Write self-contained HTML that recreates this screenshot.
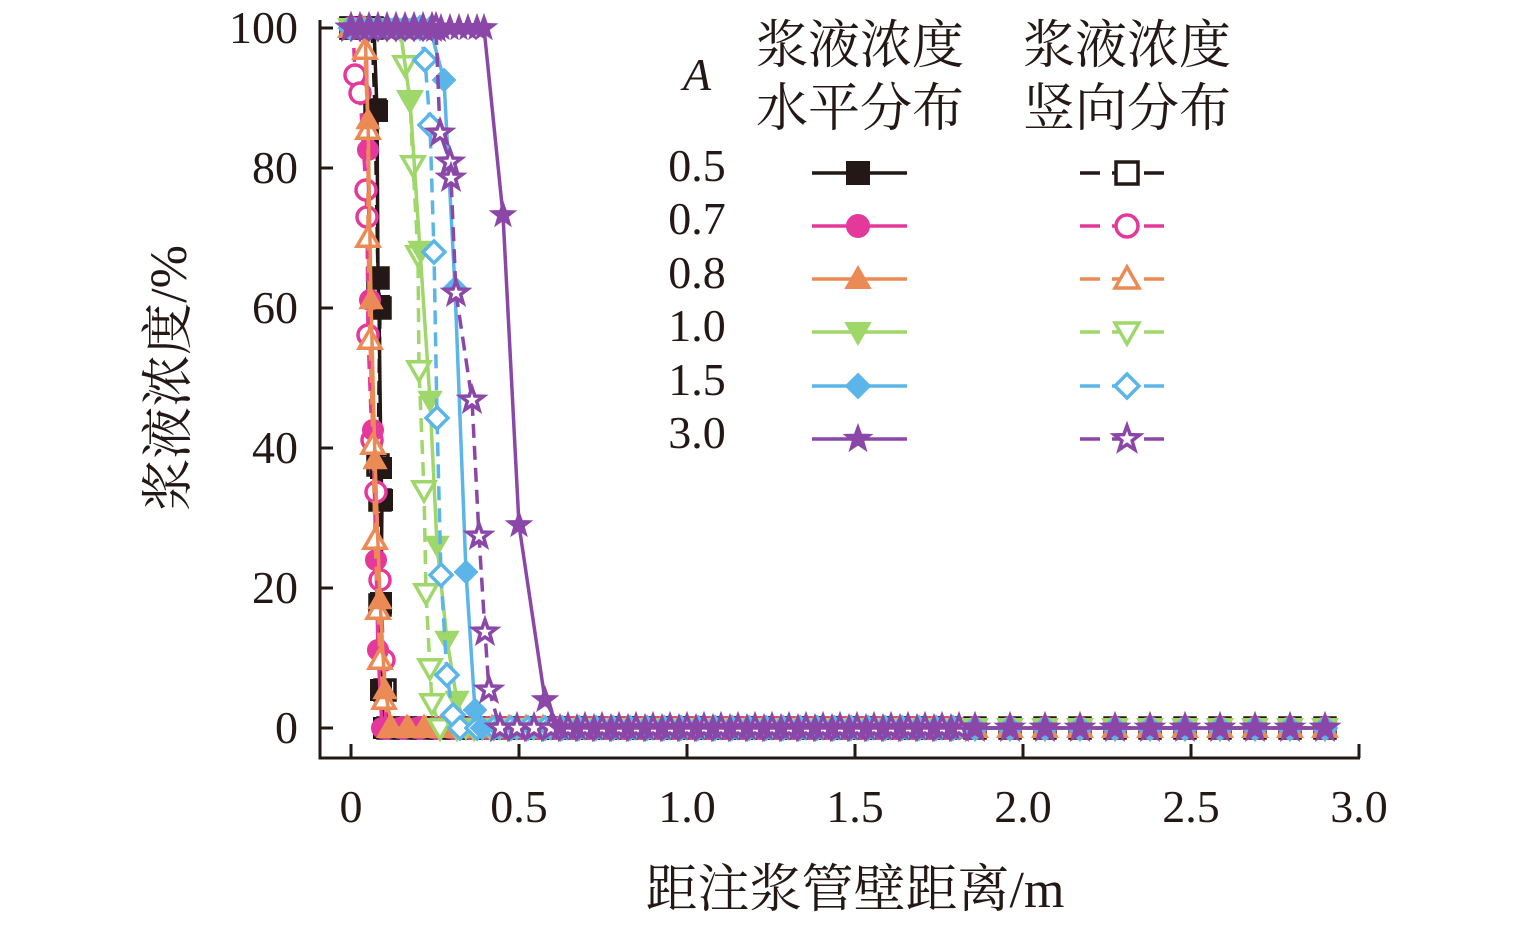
<!DOCTYPE html>
<html><head><meta charset="utf-8">
<style>
body{margin:0;background:#fff;}
svg text{font-family:"Liberation Serif","Noto Serif CJK SC",serif;fill:#231815;}
</style></head>
<body>
<svg id="s" width="1535" height="924" viewBox="0 0 1535 924" xmlns="http://www.w3.org/2000/svg">
<g stroke="#231815" stroke-width="3" fill="none">
<path d="M320,20 V758 H1360"/>
<path d="M320,28 h13 M320,168 h13 M320,308 h13 M320,448 h13 M320,588 h13 M320,728 h13"/>
<path d="M351,758 v-14 M519,758 v-14 M687,758 v-14 M855,758 v-14 M1023,758 v-14 M1191,758 v-14 M1359,758 v-14"/>
</g>
<g font-size="46" text-anchor="end">
<text x="298" y="43">100</text><text x="298" y="183">80</text><text x="298" y="323">60</text>
<text x="298" y="463">40</text><text x="298" y="603">20</text><text x="298" y="743">0</text>
</g>
<g font-size="46" text-anchor="middle">
<text x="351" y="822">0</text><text x="519" y="822">0.5</text><text x="687" y="822">1.0</text>
<text x="855" y="822">1.5</text><text x="1023" y="822">2.0</text><text x="1191" y="822">2.5</text><text x="1359" y="822">3.0</text>
<text x="855" y="907" font-size="52">距注浆管壁距离/m</text>
<text transform="translate(186,378) rotate(-90)" font-size="52">浆液浓度/%</text>
<text x="697" y="90" font-style="italic">A</text>
<text x="860" y="63" font-size="52">浆液浓度</text><text x="860" y="126" font-size="52">水平分布</text>
<text x="1127" y="63" font-size="52">浆液浓度</text><text x="1127" y="126" font-size="52">竖向分布</text>
<text x="697" y="181">0.5</text><text x="697" y="234">0.7</text><text x="697" y="288">0.8</text>
<text x="697" y="341">1.0</text><text x="697" y="395">1.5</text><text x="697" y="448">3.0</text>
</g>
<g id="plot"></g>
<g id="leg"></g>
</svg>
<script>
const NS="http://www.w3.org/2000/svg";
const C=["#231815","#e4389a","#ec8a56","#9fd76a","#5bb5e8","#8a47a8"];
const SH=["sq","ci","tu","td","di","st"];
function marker(t,x,y,col,filled,r){
  r=r||11;let el;
  const f=filled?col:"#fff";
  if(t=="sq"){el=document.createElementNS(NS,"rect");el.setAttribute("x",x-r+1);el.setAttribute("y",y-r+1);el.setAttribute("width",2*r-2);el.setAttribute("height",2*r-2);}
  else if(t=="ci"){el=document.createElementNS(NS,"circle");el.setAttribute("cx",x);el.setAttribute("cy",y);el.setAttribute("r",r-1);}
  else{let pts=[];
    if(t=="tu")pts=[[0,-r],[r,r*0.75],[-r,r*0.75]];
    if(t=="td")pts=[[0,r],[r,-r*0.75],[-r,-r*0.75]];
    if(t=="di")pts=[[0,-r],[r,0],[0,r],[-r,0]];
    if(t=="st"){for(let i=0;i<10;i++){const a=-Math.PI/2+i*Math.PI/5,rr=i%2?r*0.45:r*1.1;pts.push([rr*Math.cos(a),rr*Math.sin(a)]);}}
    el=document.createElementNS(NS,"polygon");el.setAttribute("points",pts.map(p=>(x+p[0]).toFixed(1)+","+(y+p[1]).toFixed(1)).join(" "));}
  el.setAttribute("fill",f);el.setAttribute("stroke",col);el.setAttribute("stroke-width",filled?2:3.5);
  return el;
}
const H=[
 [[351,28],[374,28],[377,111],[378,278],[379,306],[381,468],[382,500],[381,603],[381,690],[384,728]],
 [[351,28],[366,28],[368,150],[370,300],[373,430],[376,560],[378,650],[382,728]],
 [[351,28],[365,28],[368,120],[371,300],[375,460],[380,600],[385,690],[392,728]],
 [[351,28],[400,28],[410,100],[420,250],[430,400],[437,545],[447,640],[457,700],[466,728]],
 [[351,28],[430,28],[444,80],[455,288],[466,572],[475,710],[482,728]],
 [[351,28],[484,28],[503,215],[519,525],[545,700],[560,728]]];
const V=[
 [[351,28],[372,28],[375,110],[378,278],[380,308],[378,465],[380,500],[380,605],[385,690],[388,728]],
 [[351,28],[353,28],[355,75],[360,93],[366,190],[367,217],[368,335],[372,440],[376,492],[380,580],[384,660],[386,728]],
 [[351,28],[362,28],[365,50],[368,130],[368,238],[370,340],[373,445],[375,540],[378,610],[380,660],[384,700],[390,728]],
 [[351,28],[400,28],[405,65],[410,100],[413,165],[418,255],[419,370],[424,490],[426,593],[430,668],[432,703],[440,728]],
 [[351,28],[420,28],[425,60],[430,125],[434,252],[437,418],[441,575],[447,675],[453,715],[460,728]],
 [[351,28],[436,28],[440,133],[450,162],[451,178],[456,293],[472,400],[479,536],[485,632],[489,690],[500,728]]];
const plot=document.getElementById("plot");
function series(pts,col,dash,shape,filled){
  const end=pts[pts.length-1][0];
  let all=pts.slice();
  let xs=[];
  for(let x=end+17;x<=960;x+=17)xs.push(x);
  for(let x=975;x<=1330;x+=35)xs.push(x);
  xs.forEach(x=>all.push([x,728]));
  const pl=document.createElementNS(NS,"polyline");
  pl.setAttribute("points",all.map(p=>p.join(",")).join(" "));
  pl.setAttribute("fill","none");pl.setAttribute("stroke",col);pl.setAttribute("stroke-width",3.5);
  if(dash)pl.setAttribute("stroke-dasharray","14,8");
  plot.appendChild(pl);
  const start=pts[1][0];
  for(let x=351;x<start;x+=9)plot.appendChild(marker(shape,x,28,col,filled));
  all.forEach(p=>plot.appendChild(marker(shape,p[0],p[1],col,filled)));
}
for(let i=0;i<6;i++){series(V[i],C[i],true,SH[i],false);series(H[i],C[i],false,SH[i],true);}
const leg=document.getElementById("leg");
const ly=[173,226,279,332,386,439];
for(let i=0;i<6;i++){
  let l=document.createElementNS(NS,"path");l.setAttribute("d",`M812,${ly[i]}H907`);l.setAttribute("stroke",C[i]);l.setAttribute("stroke-width",3.5);leg.appendChild(l);
  leg.appendChild(marker(SH[i],858,ly[i],C[i],true,12));
  l=document.createElementNS(NS,"path");l.setAttribute("d",`M1080,${ly[i]}H1165`);l.setAttribute("stroke",C[i]);l.setAttribute("stroke-width",3.5);l.setAttribute("stroke-dasharray","20,12");leg.appendChild(l);
  leg.appendChild(marker(SH[i],1127,ly[i],C[i],false,12));
}
</script>
</body></html>
